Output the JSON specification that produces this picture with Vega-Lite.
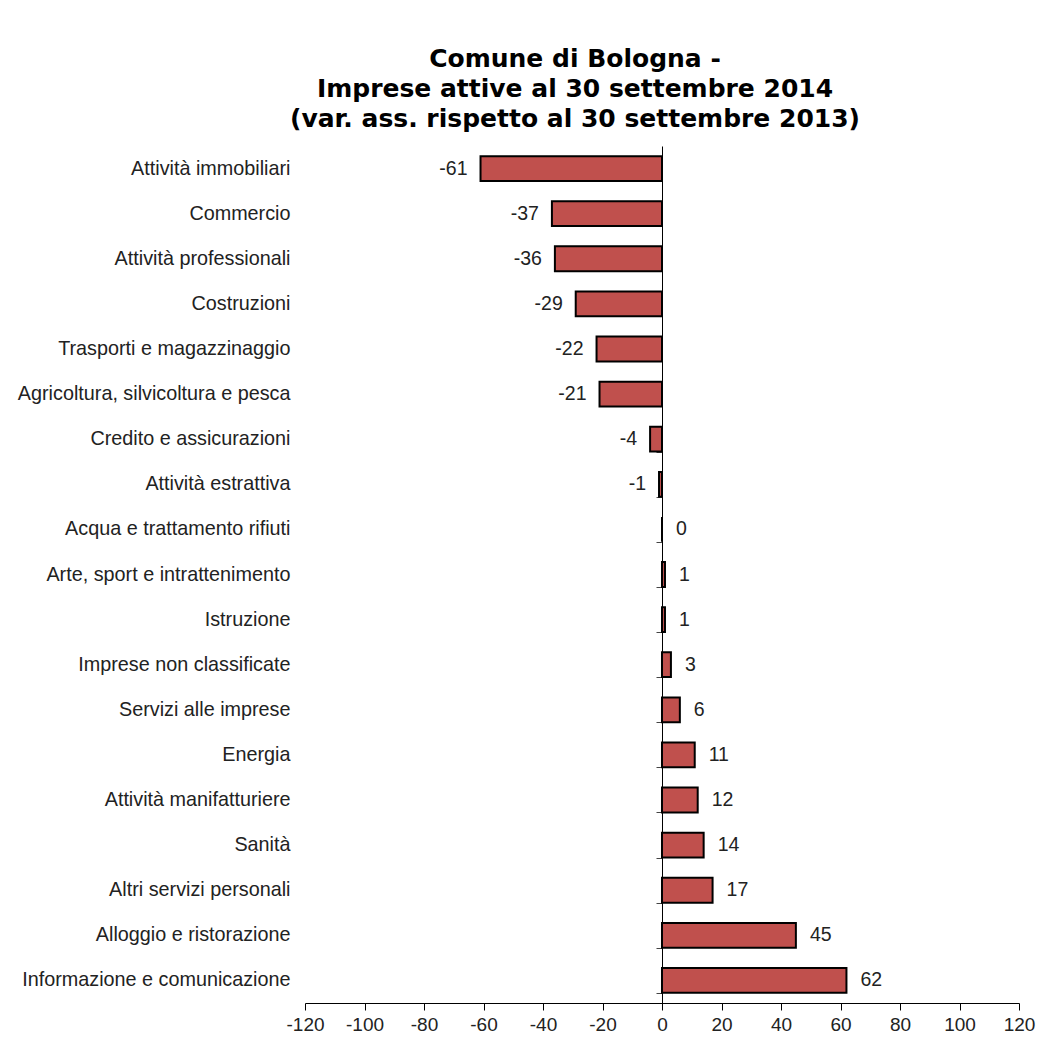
{
  "$schema": "https://vega.github.io/schema/vega-lite/v6.json",
  "autosize": {"type": "none"},
  "width": 714,
  "height": 857,
  "padding": {"left": 305, "top": 146, "right": 20, "bottom": 47},
  "background": "white",
  "title": {
    "text": ["Comune di Bologna -", "Imprese attive al 30 settembre 2014", "(var. ass. rispetto al 30 settembre 2013)"],
    "font": "DejaVu Sans",
    "fontSize": 25,
    "fontWeight": "bold",
    "lineHeight": 30,
    "color": "black",
    "anchor": "middle",
    "dx": -87,
    "offset": 14
  },
  "config": {
    "view": {"stroke": null},
    "axis": {"labelFont": "Liberation Sans", "labelFontSize": 19, "labelColor": "#222222", "grid": false, "labelLimit": 0}
  },
  "data": {
    "values": [
      {"settore": "Attività immobiliari", "var": -61},
      {"settore": "Commercio", "var": -37},
      {"settore": "Attività professionali", "var": -36},
      {"settore": "Costruzioni", "var": -29},
      {"settore": "Trasporti e magazzinaggio", "var": -22},
      {"settore": "Agricoltura, silvicoltura e pesca", "var": -21},
      {"settore": "Credito e assicurazioni", "var": -4},
      {"settore": "Attività estrattiva", "var": -1},
      {"settore": "Acqua e trattamento rifiuti", "var": 0},
      {"settore": "Arte, sport e intrattenimento", "var": 1},
      {"settore": "Istruzione", "var": 1},
      {"settore": "Imprese non classificate", "var": 3},
      {"settore": "Servizi alle imprese", "var": 6},
      {"settore": "Energia", "var": 11},
      {"settore": "Attività manifatturiere", "var": 12},
      {"settore": "Sanità", "var": 14},
      {"settore": "Altri servizi personali", "var": 17},
      {"settore": "Alloggio e ristorazione", "var": 45},
      {"settore": "Informazione e comunicazione", "var": 62}
    ]
  },
  "layer": [
    {
      "mark": {"type": "bar", "color": "#C0504D", "stroke": "black", "strokeWidth": 2},
      "encoding": {
        "y": {
          "field": "settore", "type": "nominal", "sort": null,
          "scale": {"paddingInner": 0.45, "paddingOuter": 0.225},
          "axis": {"title": null, "domain": false, "ticks": false, "labelPadding": 15, "labelFontSize": 19.8}
        },
        "x": {
          "field": "var", "type": "quantitative",
          "scale": {"domain": [-120, 120], "nice": false},
          "axis": {
            "title": null, "values": [-120, -100, -80, -60, -40, -20, 0, 20, 40, 60, 80, 100, 120],
            "labelExpr": "'' + datum.value", "labelOverlap": false, "labelFlush": false,
            "domainColor": "black", "domainWidth": 1, "tickColor": "black", "tickSize": 7,
            "labelPadding": 5
          }
        }
      }
    },
    {
      "transform": [{"filter": "datum['var'] < 0"}],
      "mark": {"type": "text", "align": "right", "dx": -13, "font": "Liberation Sans", "fontSize": 19.5, "color": "#222222"},
      "encoding": {
        "y": {
          "field": "settore", "type": "nominal", "sort": null,
          "axis": {"orient": "left", "offset": -357, "labels": false, "title": null, "domainColor": "black", "tickColor": "#444444", "tickSize": 6, "tickBand": "extent"}
        },
        "x": {"field": "var", "type": "quantitative"},
        "text": {"field": "var", "type": "nominal"}
      }
    },
    {
      "transform": [{"filter": "datum['var'] >= 0"}],
      "mark": {"type": "text", "align": "left", "dx": 14, "font": "Liberation Sans", "fontSize": 19.5, "color": "#222222"},
      "encoding": {
        "y": {"field": "settore", "type": "nominal", "sort": null, "axis": null},
        "x": {"field": "var", "type": "quantitative"},
        "text": {"field": "var", "type": "nominal"}
      }
    }
  ],
  "resolve": {"axis": {"y": "independent"}}
}
